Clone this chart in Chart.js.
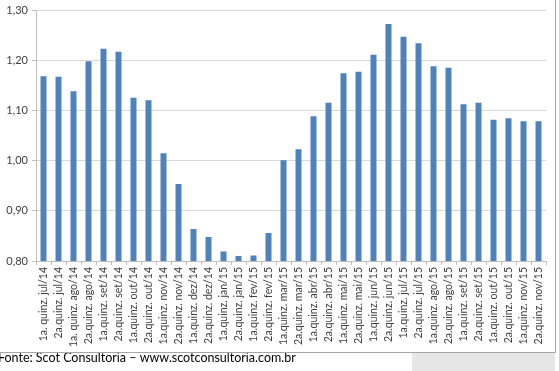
<!DOCTYPE html>
<html>
<head>
<meta charset="utf-8">
<script src="https://cdn.jsdelivr.net/npm/chart.js@4.4.0/dist/chart.umd.min.js"></script>
<style>
  body { margin: 0; background: #fff; }
  #wrap { position: relative; width: 559px; height: 371px; }
</style>
</head>
<body>
<div id="wrap"><canvas id="myChart"></canvas></div>
<script>
const labels = [
  "1a. quinz. jul/14", "2a.quinz. jul/14", "1a. quinz. ago/14", "2a.quinz. ago/14",
  "1a.quinz. set/14", "2a.quinz. set/14", "1a.quinz. out/14", "2a.quinz. out/14",
  "1a.quinz. nov/14", "2a.quinz. nov/14", "1a.quinz. dez/14", "2a.quinz. dez/14",
  "1a.quinz. jan/15", "2a.quinz. jan/15", "1a.quinz. fev/15", "2a.quinz. fev/15",
  "1a.quinz. mar/15", "2a.quinz. mar/15", "1a.quinz. abr/15", "2a.quinz. abr/15",
  "1a.quinz. mai/15", "2a.quinz. mai/15", "1a.quinz. jun/15", "2a.quinz. jun/15",
  "1a.quinz. jul/15", "2a.quinz. jul/15", "1a.quinz. ago/15", "2a.quinz. ago/15",
  "1a.quinz. set/15", "2a.quinz. set/15", "1a.quinz. out/15", "2a.quinz. out/15",
  "1a.quinz. nov/15", "2a.quinz. nov/15"
];
const values = [
  1.169, 1.168, 1.139, 1.199, 1.224, 1.218, 1.126, 1.121,
  1.015, 0.954, 0.864, 0.848, 0.819, 0.810, 0.811, 0.856,
  1.001, 1.023, 1.089, 1.116, 1.175, 1.178, 1.212, 1.273,
  1.248, 1.235, 1.189, 1.186, 1.113, 1.116, 1.082, 1.085,
  1.079, 1.079
];
const yTicks = [0.8, 0.9, 1.0, 1.1, 1.2, 1.3];
const footer = "Fonte: Scot Consultoria \u2013 www.scotconsultoria.com.br";

Chart.defaults.font.family = "Lato, 'Open Sans', sans-serif";

// frame and source line under the chart
const framePlugin = {
  id: "frame",
  afterDraw(chart) {
    const c = chart.ctx;
    c.save();
    c.fillStyle = "#e6e6e6";
    c.fillRect(412, 353, 143, 18);
    c.save();
    c.beginPath();
    c.rect(0, 353, 559, 18);
    c.clip();
    c.fillStyle = "#000";
    c.font = "12.5px Lato, sans-serif";
    c.textBaseline = "alphabetic";
    c.fillText(footer, -2, 362);
    c.restore();
    c.strokeStyle = "#a6a6a6";
    c.lineWidth = 1;
    c.beginPath();
    c.moveTo(0, 352.5);
    c.lineTo(555.5, 352.5);
    c.lineTo(555.5, 0);
    c.stroke();
    c.restore();
  }
};

const ctx = document.getElementById("myChart").getContext("2d");
const myChart = new Chart(ctx, {
  type: "bar",
  data: {
    labels: labels,
    datasets: [{
      data: values,
      backgroundColor: "#4f81bd",
      borderWidth: 0,
      categoryPercentage: 1,
      barPercentage: 0.4
    }]
  },
  options: {
    responsive: true,
    maintainAspectRatio: false,
    animation: false,
    layout: { padding: { top: 10, right: 13, left: 0, bottom: 0 } },
    plugins: {
      legend: { display: false },
      tooltip: { enabled: false }
    },
    scales: {
      x: {
        afterFit(scale) { scale.height = 110; },
        grid: {
          offset: true,
          drawOnChartArea: false,
          drawTicks: true,
          tickLength: 4,
          color: "#bfbfbf"
        },
        border: { color: "#bfbfbf" },
        ticks: {
          autoSkip: false,
          minRotation: 90,
          maxRotation: 90,
          padding: 2,
          color: "#404040",
          font: { size: 10.5 }
        }
      },
      y: {
        min: 0.8,
        max: 1.3,
        afterFit(scale) { scale.width = 36; },
        afterBuildTicks(scale) { scale.ticks = yTicks.map(v => ({ value: v })); },
        grid: {
          color: "#d9d9d9",
          tickLength: 4,
          tickColor: "#bfbfbf"
        },
        border: { color: "#bfbfbf" },
        ticks: {
          padding: 4,
          color: "#404040",
          font: { size: 11 },
          callback: v => v.toFixed(2).replace(".", ",")
        }
      }
    }
  },
  plugins: [framePlugin]
});
</script>
</body>
</html>
